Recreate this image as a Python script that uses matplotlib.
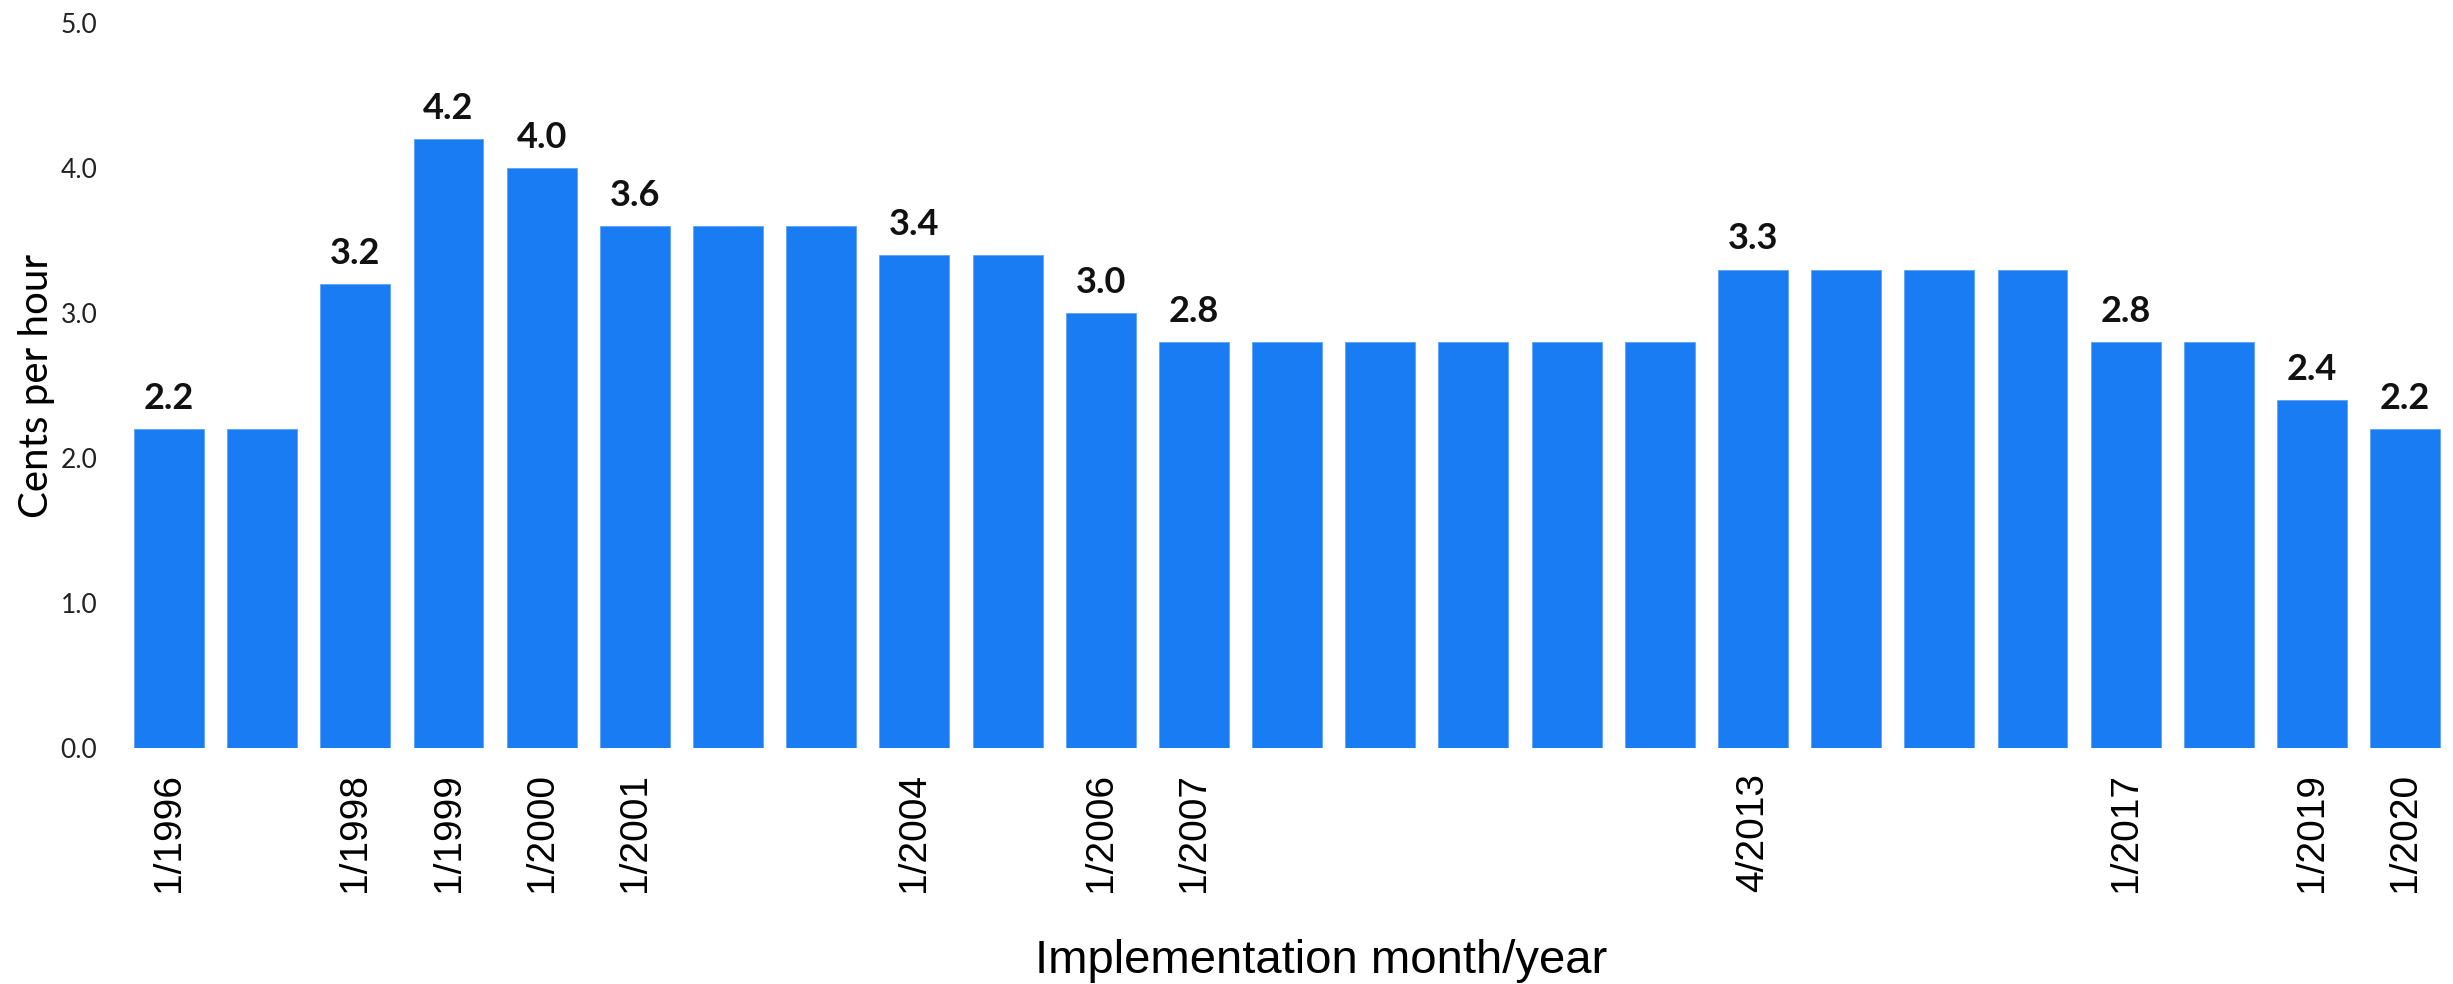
import numpy as np
import matplotlib.pyplot as plt

# wage increase per hour, by implementation date
dates = ["1/1996", "", "1/1998", "1/1999", "1/2000", "1/2001", "", "",
         "1/2004", "", "1/2006", "1/2007", "", "", "", "", "",
         "4/2013", "", "", "", "1/2017", "", "1/2019", "1/2020"]
cents = [2.2, 2.2, 3.2, 4.2, 4.0, 3.6, 3.6, 3.6, 3.4, 3.4, 3.0, 2.8, 2.8,
         2.8, 2.8, 2.8, 2.8, 3.3, 3.3, 3.3, 3.3, 2.8, 2.8, 2.4, 2.2]
yticks = [0.0, 1.0, 2.0, 3.0, 4.0, 5.0]

BLUE = "#1a7cf2"

fig = plt.figure(figsize=(24.53, 9.84), dpi=100)
ax = fig.add_axes([0.0499, 0.2398, 0.9496, 0.7368])

x = np.arange(len(cents))
bars = ax.bar(x, cents, width=0.75, color=BLUE, edgecolor="#5fa3f5", linewidth=0.6)

# value labels only where a date is shown
for xi, v, d in zip(x, cents, dates):
    if d:
        ax.annotate(f"{v:.1f}", (xi, v), xytext=(0, 14.5), textcoords="offset points",
                    ha="center", va="baseline", fontsize=26, fontweight="bold",
                    family=["Lato", "DejaVu Sans"], color="#111111")

ax.set_xlim(-0.5, len(cents) - 0.5)
ax.set_ylim(0, 5.0)
ax.set_yticks(yticks)
ax.set_yticklabels([f"{t:.1f}" for t in yticks], fontsize=19,
                   family=["Lato", "DejaVu Sans"], color="#222222")
ax.set_xticks(x)
ax.set_xticklabels(dates, rotation=90, fontsize=28, family=["Liberation Sans", "DejaVu Sans"],
                   color="#000000", va="top", ha="center")
ax.tick_params(axis="both", length=0)
ax.tick_params(axis="x", pad=18)
ax.tick_params(axis="y", pad=18)

for s in ax.spines.values():
    s.set_visible(False)

fig.text(1321 / 2453, 11 / 984, "Implementation month/year", ha="center", va="baseline",
         fontsize=34, family=["Liberation Sans", "DejaVu Sans"])
fig.text(37 / 2453, 1 - 386 / 984, "Cents per hour", rotation=90, ha="center", va="center",
         fontsize=29, family=["Lato", "DejaVu Sans"])

fig.savefig("out.png", dpi=100)
